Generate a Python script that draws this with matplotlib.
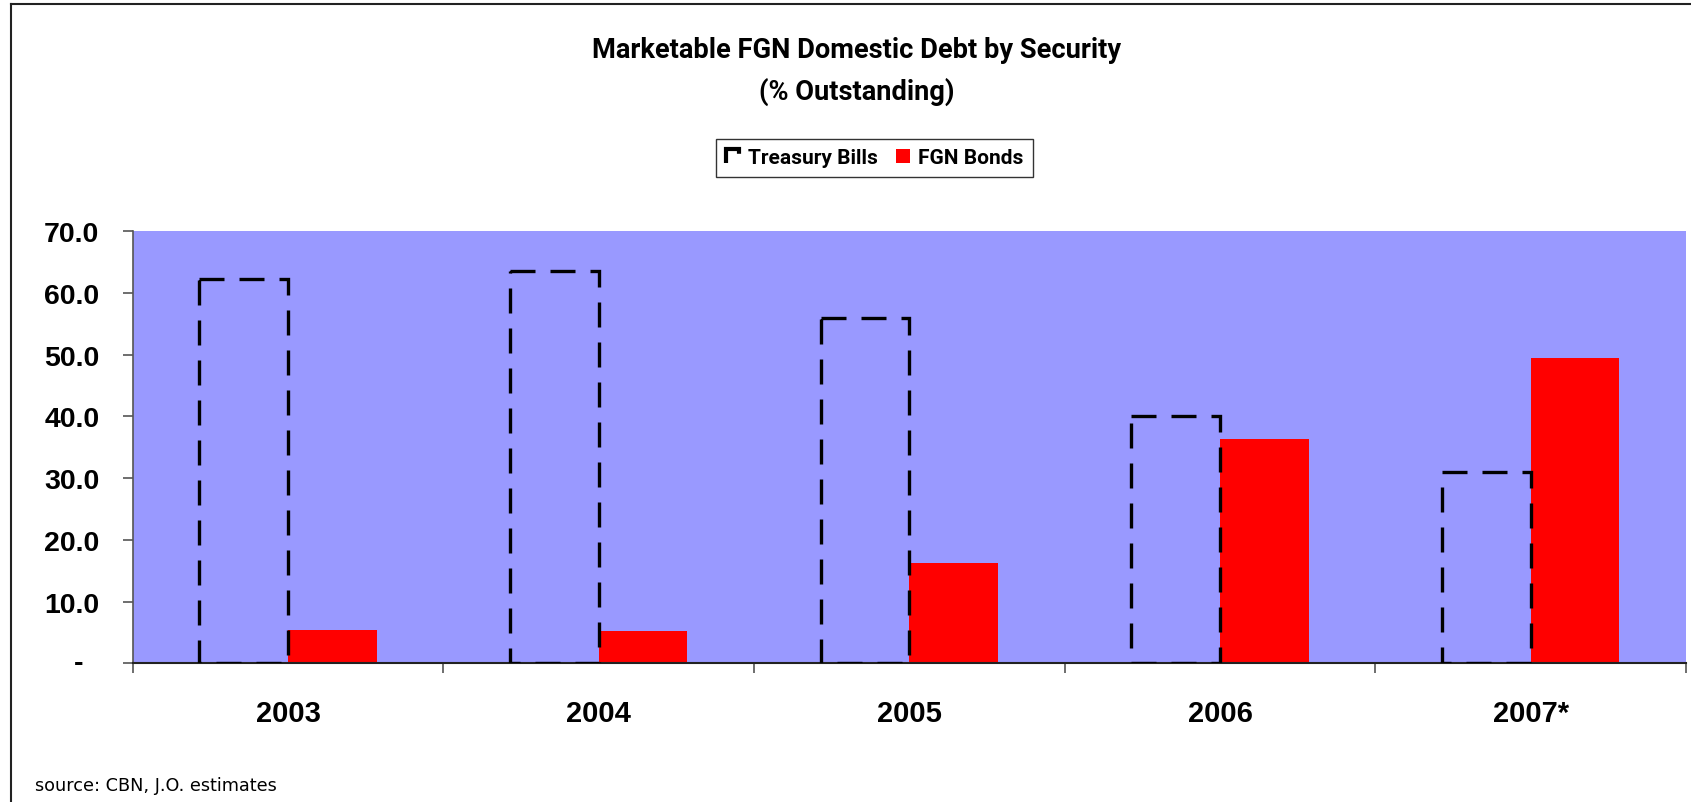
import matplotlib
matplotlib.use("Agg")
import matplotlib.pyplot as plt
from matplotlib.patches import Patch
from matplotlib.lines import Line2D
import numpy as np

categories = ["2003", "2004", "2005", "2006", "2007*"]
treasury_bills = [62.2, 63.6, 56.0, 40.1, 31.0]
fgn_bonds = [5.4, 5.2, 16.3, 36.3, 49.5]
yticks = [0, 10, 20, 30, 40, 50, 60, 70]
ytick_labels = ["-", "10.0", "20.0", "30.0", "40.0", "50.0", "60.0", "70.0"]

W, H = 1691, 803
fig = plt.figure(figsize=(W / 100, H / 100), dpi=100)
fig.patch.set_facecolor("white")

cond = ["Roboto", "DejaVu Sans"]
sans = ["Liberation Sans", "DejaVu Sans"]

ax = fig.add_axes([132.7 / W, 1 - 664.3 / H, (1686 - 132.7) / W, (664.3 - 232.3) / H])
ax.set_facecolor("#9999FF")

x = np.arange(len(categories))
bw = 1 / 3.5
lw = 2.4
tb = np.array(treasury_bills)
# drawn top-down so the dash pattern starts at the top-left corner, clockwise (as Excel does)
ax.bar(x - bw / 2, -tb, bottom=tb, width=bw, facecolor="none", edgecolor="black",
       linewidth=lw, linestyle=(0, (18 / lw, 10.8 / lw)), zorder=3)
ax.bar(x + bw / 2, fgn_bonds, width=bw, color="#FF0000", edgecolor="none", zorder=2)

ax.set_xlim(-0.5, len(categories) - 0.5)
ax.set_ylim(0, 70)

for s in ["top", "right"]:
    ax.spines[s].set_visible(False)
ax.spines["left"].set_color("#555555")
ax.spines["bottom"].set_color("#222222")
ax.spines["left"].set_linewidth(1.2)
ax.spines["bottom"].set_linewidth(1.5)

ax.set_yticks(yticks)
ax.set_yticklabels(ytick_labels, fontfamily=sans, fontweight="bold", fontsize=20.5)
ax.tick_params(axis="y", length=7, width=1.2, color="#555555", pad=17)

ax.set_xticks(x)
ax.set_xticklabels(categories, fontfamily=sans, fontweight="bold", fontsize=21)
ax.tick_params(axis="x", which="major", length=0, pad=26)
ax.set_xticks(np.arange(len(categories) + 1) - 0.5, minor=True)
ax.tick_params(axis="x", which="minor", length=7, width=1.2, color="#555555")

# zero label is offset left as in the original (accounting-style dash)
ax.yaxis.get_major_ticks()[0].label1.set_visible(False)
ax.annotate(ytick_labels[0], xy=(0, yticks[0]), xycoords=("axes fraction", "data"),
            xytext=(-54, 0), textcoords="offset pixels", ha="center", va="center",
            fontfamily=sans, fontweight="bold", fontsize=20.5, annotation_clip=False)

fig.text(857 / W, 1 - 50.6 / H, "Marketable FGN Domestic Debt by Security",
         ha="center", va="center", fontsize=19.6, fontfamily=cond, fontweight="bold")
fig.text(857 / W, 1 - 91.6 / H, "(% Outstanding)",
         ha="center", va="center", fontsize=19.6, fontfamily=cond, fontweight="bold")

handles = [Patch(facecolor="white", edgecolor="black", linewidth=3, linestyle=(24 / 3, (24 / 3, 16 / 3))),
           Patch(facecolor="#FF0000", edgecolor="none")]
leg = fig.legend(handles, ["Treasury Bills", "FGN Bonds"], loc="center",
                 bbox_to_anchor=(874.6 / W, 1 - 158.8 / H), ncol=2,
                 prop={"family": cond, "size": 15, "weight": "bold"}, frameon=True,
                 fancybox=False, edgecolor="black", handlelength=0.65, handleheight=0.65,
                 handletextpad=0.4, columnspacing=0.9, borderpad=0.45, borderaxespad=0)
leg.get_frame().set_linewidth(1.0)

fig.text(35 / W, 1 - 786 / H, "source: CBN, J.O. estimates", ha="left", va="center",
         fontsize=12.7, fontfamily=["DejaVu Sans"])

fig.add_artist(Line2D([11 / W, 11 / W], [0, 1 - 5 / H], transform=fig.transFigure,
                      color="#222222", linewidth=1.5))
fig.add_artist(Line2D([11 / W, 1], [1 - 5 / H, 1 - 5 / H], transform=fig.transFigure,
                      color="#222222", linewidth=1.5))

fig.savefig("out.png", dpi=100)
